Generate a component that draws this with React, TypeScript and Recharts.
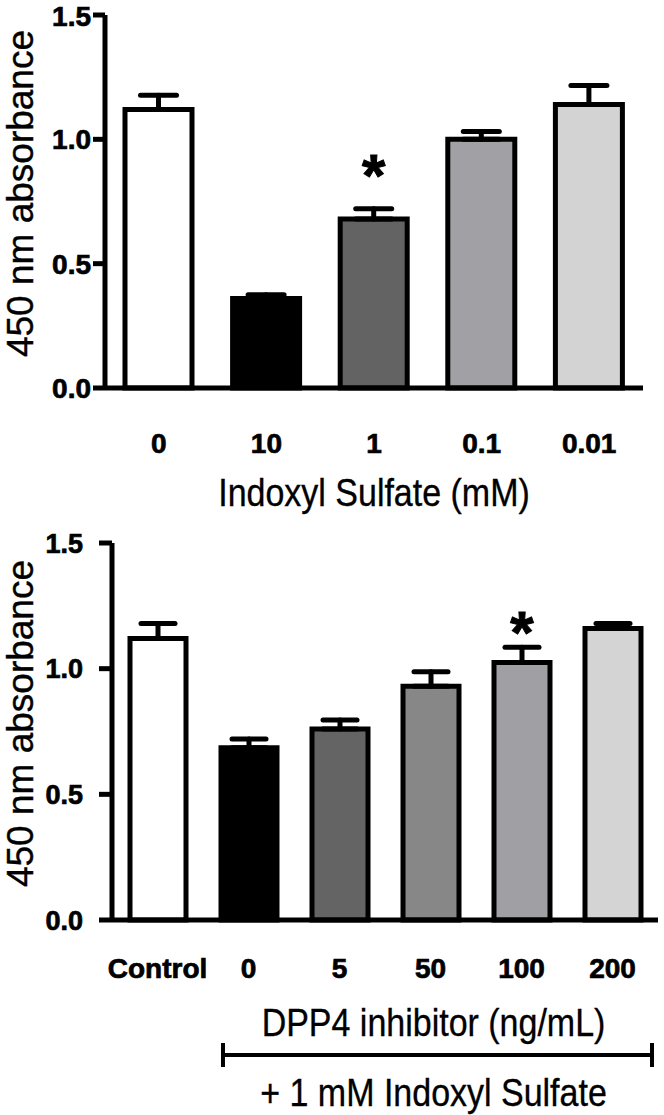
import React from 'react';
import { BarChart, Bar, XAxis, YAxis, Cell, ErrorBar, LabelList } from 'recharts';

// top panel: indoxyl sulfate dose
const topCategories = ['0', '10', '1', '0.1', '0.01'];
const topMeans = [1.12, 0.36, 0.68, 1.0, 1.14];
const topErrors = [0.057, 0.015, 0.041, 0.031, 0.076];
const topSignificant = [false, false, true, false, false];
const topFills = ['#ffffff', '#000000', '#636363', '#a1a0a4', '#d3d3d3'];

// bottom panel: DPP4 inhibitor + 1 mM indoxyl sulfate
const bottomCategories = ['Control', '0', '5', '50', '100', '200'];
const bottomMeans = [1.12, 0.685, 0.76, 0.93, 1.025, 1.16];
const bottomErrors = [0.06, 0.035, 0.036, 0.058, 0.06, 0.02];
const bottomSignificant = [false, false, false, false, true, false];
const bottomFills = ['#ffffff', '#000000', '#646464', '#878787', '#a0a0a4', '#d4d4d4'];

const yTicks = [0, 0.5, 1.0, 1.5];

const buildRows = (cats: string[], means: number[], errs: number[]) =>
  cats.map((name, i) => ({ name, value: means[i], err: [0, errs[i]] }));

const topRows = buildRows(topCategories, topMeans, topErrors);
const bottomRows = buildRows(bottomCategories, bottomMeans, bottomErrors);

// the source figure has heavy, slightly smeared tick text
const tickStyle = { fill: '#000', fontSize: 28, fontWeight: 700, stroke: '#000', strokeWidth: 0.7 };
const axisLine = { stroke: '#000', strokeWidth: 5 };

const YTitle = ({ viewBox }: any) => {
  const cx = 33;
  const cy = viewBox.y + viewBox.height / 2 - 8;
  return (
    <text x={cx} y={cy} transform={`rotate(-90 ${cx} ${cy})`} textAnchor="middle" fontSize={37} fill="#000" stroke="#000" strokeWidth={0.4}>
      450 nm absorbance
    </text>
  );
};

// titles look a little taller/narrower than plain Arial
const TallText = ({ x, y, children }: any) => (
  <text transform={`translate(${x} ${y}) scale(1 1.12)`} textAnchor="middle" fontSize={34} fill="#000" stroke="#000" strokeWidth={0.3}>
    {children}
  </text>
);

const TopTitle = ({ viewBox }: any) => (
  <TallText x={viewBox.x + viewBox.width / 2} y={viewBox.y + 118}>Indoxyl Sulfate (mM)</TallText>
);

const BottomTitles = ({ viewBox }: any) => {
  const { x, y, width } = viewBox;
  const band = width / bottomCategories.length;
  const mid = x + band * 3.5 + 3;
  const x1 = x + band * 1.22;
  const x2 = x + width - 6;
  const by = y + 135;
  return (
    <g>
      <TallText x={mid} y={y + 116}>DPP4 inhibitor (ng/mL)</TallText>
      <line x1={x1} x2={x2} y1={by} y2={by} stroke="#000" strokeWidth={4} />
      <line x1={x1} x2={x1} y1={by - 12} y2={by + 12} stroke="#000" strokeWidth={4} />
      <line x1={x2} x2={x2} y1={by - 12} y2={by + 12} stroke="#000" strokeWidth={4} />
      <TallText x={mid} y={y + 186}>+ 1 mM Indoxyl Sulfate</TallText>
    </g>
  );
};

// asterisk sits a fixed gap above the error cap
const starContent = (errors: number[], flags: boolean[], gap: number) => (props: any) => {
  const { x, y, width, height, value, index } = props;
  if (!flags[index]) return null;
  const perUnit = height / value;
  const cy = y - errors[index] * perUnit - gap;
  return (
    <text x={x + width / 2} y={cy + 33} textAnchor="middle" fontSize={60} fontWeight={700} fill="#000" stroke="#000" strokeWidth={1}>
      *
    </text>
  );
};

export default function App() {
  return (
    <div style={{ position: 'absolute', left: 0, top: 0, width: 664, height: 1115, background: '#fff', fontFamily: '"Liberation Sans", Arial, sans-serif' }}>
      <BarChart width={664} height={520} data={topRows} margin={{ top: 15, right: 21, left: 0, bottom: 0 }} barSize={67}>
        <XAxis dataKey="name" interval={0} height={132} axisLine={axisLine} tickLine={false} tickSize={0} tickMargin={45} tick={tickStyle} label={<TopTitle />} />
        <YAxis
          domain={[0, 1.5]}
          ticks={yTicks}
          width={105}
          axisLine={axisLine}
          tickLine={{ stroke: '#000', strokeWidth: 5 }}
          tickSize={12}
          tickMargin={2}
          tick={tickStyle}
          tickFormatter={(v: number) => v.toFixed(1)}
          label={<YTitle />}
        />
        <Bar dataKey="value" stroke="#000" strokeWidth={5} isAnimationActive={false}>
          {topRows.map((r, i) => (
            <Cell key={r.name} fill={topFills[i]} />
          ))}
          <ErrorBar dataKey="err" direction="y" width={18} strokeWidth={5} stroke="#000" strokeLinecap="round" isAnimationActive={false} />
          <LabelList dataKey="value" content={starContent(topErrors, topSignificant, 46)} />
        </Bar>
      </BarChart>
      <BarChart width={664} height={595} data={bottomRows} margin={{ top: 23, right: 6, left: 0, bottom: 0 }} barSize={56}>
        <XAxis dataKey="name" interval={0} height={195} axisLine={axisLine} tickLine={false} tickSize={0} tickMargin={38} tick={tickStyle} label={<BottomTitles />} />
        <YAxis
          domain={[0, 1.5]}
          ticks={yTicks}
          width={112}
          axisLine={axisLine}
          tickLine={{ stroke: '#000', strokeWidth: 5 }}
          tickSize={13}
          tickMargin={16}
          tick={{ ...tickStyle, fontSize: 27 }}
          tickFormatter={(v: number) => v.toFixed(1)}
          label={<YTitle />}
        />
        <Bar dataKey="value" stroke="#000" strokeWidth={5} isAnimationActive={false}>
          {bottomRows.map((r, i) => (
            <Cell key={r.name} fill={bottomFills[i]} />
          ))}
          <ErrorBar dataKey="err" direction="y" width={17} strokeWidth={5} stroke="#000" strokeLinecap="round" isAnimationActive={false} />
          <LabelList dataKey="value" content={starContent(bottomErrors, bottomSignificant, 27.5)} />
        </Bar>
      </BarChart>
    </div>
  );
}
